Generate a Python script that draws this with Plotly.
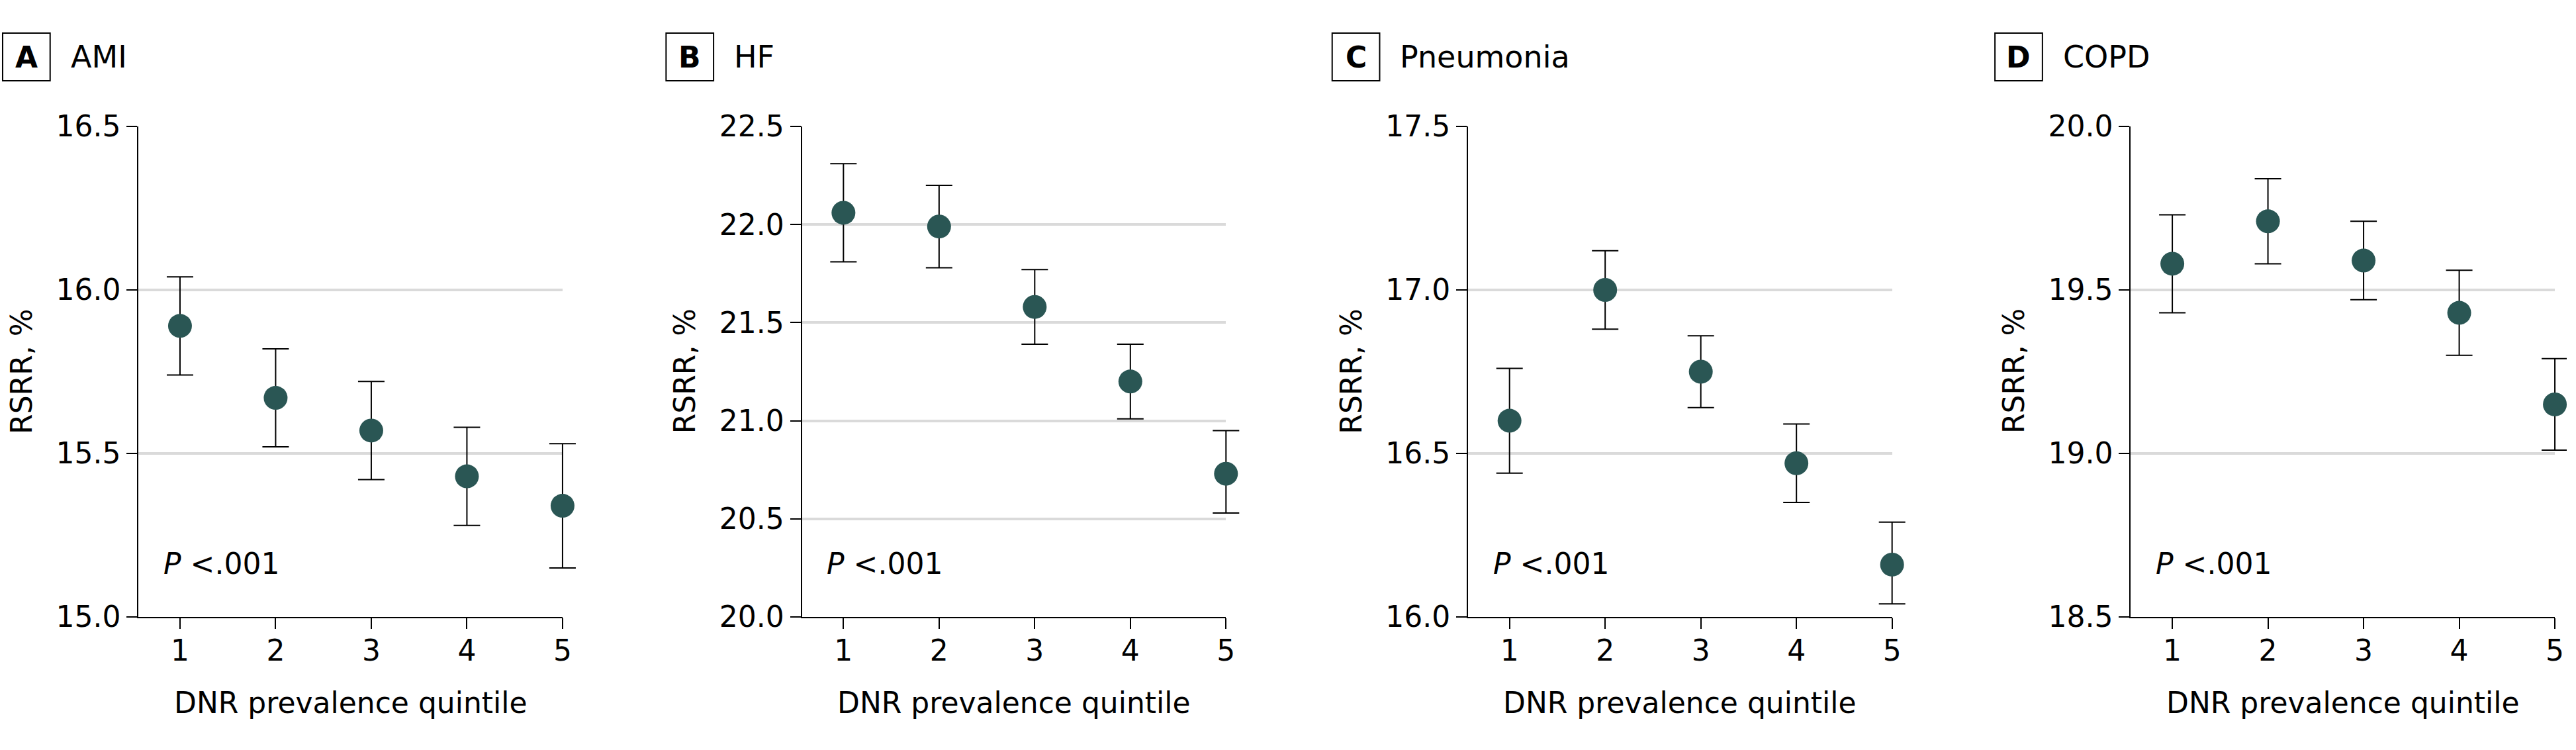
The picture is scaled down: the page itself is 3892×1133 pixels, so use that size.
import plotly.graph_objects as go

# ---------------------------------------------------
# Data
# ---------------------------------------------------

QUINTILES = [1, 2, 3, 4, 5]

AMI_RSRR = [15.89, 15.67, 15.57, 15.43, 15.34]
AMI_LOW = [15.74, 15.52, 15.42, 15.28, 15.15]
AMI_HIGH = [16.04, 15.82, 15.72, 15.58, 15.53]

HF_RSRR = [22.06, 21.99, 21.58, 21.20, 20.73]
HF_LOW = [21.81, 21.78, 21.39, 21.01, 20.53]
HF_HIGH = [22.31, 22.20, 21.77, 21.39, 20.95]

PNEU_RSRR = [16.60, 17.00, 16.75, 16.47, 16.16]
PNEU_LOW = [16.44, 16.88, 16.64, 16.35, 16.04]
PNEU_HIGH = [16.76, 17.12, 16.86, 16.59, 16.29]

COPD_RSRR = [19.58, 19.71, 19.59, 19.43, 19.15]
COPD_LOW = [19.43, 19.58, 19.47, 19.30, 19.01]
COPD_HIGH = [19.73, 19.84, 19.71, 19.56, 19.29]

PANEL_LETTERS = ["A", "B", "C", "D"]
PANEL_TITLES = ["AMI", "HF", "Pneumonia", "COPD"]
Y_RANGES = [[15.0, 16.5], [20.0, 22.5], [16.0, 17.5], [18.5, 20.0]]
P_TEXT = "<i>P</i> &lt;.001"
X_TITLE = "DNR prevalence quintile"
Y_TITLE = "RSRR, %"

PANELS = [
    (AMI_RSRR, AMI_LOW, AMI_HIGH),
    (HF_RSRR, HF_LOW, HF_HIGH),
    (PNEU_RSRR, PNEU_LOW, PNEU_HIGH),
    (COPD_RSRR, COPD_LOW, COPD_HIGH),
]

# ---------------------------------------------------
# Layout constants
# ---------------------------------------------------

W, H = 3892, 1133
TOP, BOTTOM = 191, 201
PLOT_H = H - TOP - BOTTOM
AXIS_LEFT = [210, 1216, 2226, 3231]
PLOT_W = 643
X_RANGE = [0.566, 5]
# the data layer sits on a slightly wider, invisible subplot so the
# error-bar caps at quintile 5 are not clipped at the plot edge
EXTRA_PX = 30
PX_PER_UNIT = PLOT_W / (X_RANGE[1] - X_RANGE[0])

FONT = "DejaVu Sans"
MARKER = "#2a5654"
GRID = "#dadada"


def px_x(dx):
    """Horizontal pixel offset from the axis -> x-domain units."""
    return dx / PLOT_W


def px_y(y_px):
    """Absolute pixel row -> paper y units."""
    return (H - BOTTOM - y_px) / PLOT_H


def axis_style():
    return {
        "zeroline": False,
        "showline": True,
        "linecolor": "black",
        "linewidth": 2,
        "ticks": "outside",
        "ticklen": 16,
        "tickwidth": 2,
        "tickcolor": "black",
        "tickfont": {"size": 44, "color": "black", "family": FONT},
    }


fig = go.Figure()

for i, (vals, low, high) in enumerate(PANELS):
    n = "" if i == 0 else str(i + 1)
    m = str(i + 5)
    plus = [h - v for h, v in zip(high, vals)]
    minus = [v - lo for v, lo in zip(vals, low)]

    x0 = AXIS_LEFT[i] / W
    x1 = (AXIS_LEFT[i] + PLOT_W) / W
    extra = min(EXTRA_PX, W - AXIS_LEFT[i] - PLOT_W)
    x1_wide = (AXIS_LEFT[i] + PLOT_W + extra) / W

    # visible axes and grid
    fig.update_layout(
        {
            f"xaxis{n}": {
                "domain": [x0, x1],
                "range": X_RANGE,
                "anchor": f"y{n}",
                "tickvals": QUINTILES,
                "showgrid": False,
                "ticklabelstandoff": -5,
                **axis_style(),
            },
            f"yaxis{n}": {
                "domain": [0, 1],
                "range": Y_RANGES[i],
                "anchor": f"x{n}",
                "dtick": 0.5,
                "tickformat": ".1f",
                "showgrid": True,
                "gridcolor": GRID,
                "gridwidth": 4,
                **axis_style(),
            },
            # invisible data layer
            f"xaxis{m}": {
                "domain": [x0, x1_wide],
                "range": [X_RANGE[0], X_RANGE[1] + extra / PX_PER_UNIT],
                "anchor": f"y{m}",
                "visible": False,
            },
            f"yaxis{m}": {
                "domain": [0, 1],
                "range": Y_RANGES[i],
                "anchor": f"x{m}",
                "visible": False,
            },
        }
    )

    # empty trace so the visible subplot gets built
    fig.add_trace(
        go.Scatter(
            x=[None],
            y=[None],
            mode="markers",
            xaxis=f"x{n}",
            yaxis=f"y{n}",
            showlegend=False,
            hoverinfo="skip",
        )
    )
    fig.add_trace(
        go.Scatter(
            x=QUINTILES,
            y=vals,
            mode="markers",
            xaxis=f"x{m}",
            yaxis=f"y{m}",
            marker={"size": 36, "color": MARKER, "line": {"width": 0}},
            error_y={
                "type": "data",
                "array": plus,
                "arrayminus": minus,
                "color": "black",
                "thickness": 2,
                "width": 20,
            },
            cliponaxis=False,
            showlegend=False,
        )
    )

    xref = f"x{n} domain"

    # panel letter box
    fig.add_shape(
        type="rect",
        xref=xref,
        yref="paper",
        x0=px_x(-206),
        x1=px_x(-134),
        y0=px_y(122),
        y1=px_y(50),
        line={"color": "black", "width": 2},
        fillcolor="white",
    )
    fig.add_annotation(
        text=f"<b>{PANEL_LETTERS[i]}</b>",
        xref=xref,
        yref="paper",
        x=px_x(-170),
        y=px_y(86),
        xanchor="center",
        yanchor="middle",
        showarrow=False,
        font={"size": 44, "color": "black", "family": FONT},
    )
    fig.add_annotation(
        text=PANEL_TITLES[i],
        xref=xref,
        yref="paper",
        x=px_x(-105),
        y=px_y(86),
        xanchor="left",
        yanchor="middle",
        showarrow=False,
        font={"size": 46, "color": "black", "family": FONT},
    )
    # y-axis title
    fig.add_annotation(
        text=Y_TITLE,
        xref=xref,
        yref="paper",
        x=px_x(-178),
        y=px_y(561),
        xanchor="center",
        yanchor="middle",
        textangle=-90,
        showarrow=False,
        font={"size": 44, "color": "black", "family": FONT},
    )
    # x-axis title
    fig.add_annotation(
        text=X_TITLE,
        xref=xref,
        yref="paper",
        x=0.5,
        y=px_y(1061),
        xanchor="center",
        yanchor="middle",
        showarrow=False,
        font={"size": 44, "color": "black", "family": FONT},
    )
    # trend P value
    fig.add_annotation(
        text=P_TEXT,
        xref=xref,
        yref="paper",
        x=px_x(36),
        y=px_y(851),
        xanchor="left",
        yanchor="middle",
        showarrow=False,
        font={"size": 44, "color": "black", "family": FONT},
    )

fig.update_layout(
    width=W,
    height=H,
    margin={"l": 0, "r": 0, "t": TOP, "b": BOTTOM},
    paper_bgcolor="white",
    plot_bgcolor="rgba(0,0,0,0)",
    font={"family": FONT, "color": "black"},
)

# drop the browser's default 8px body margin so the figure fills the window
fig.write_html(
    "out.html",
    config={"displayModeBar": False},
    post_script="document.body.style.margin = '0';",
)
